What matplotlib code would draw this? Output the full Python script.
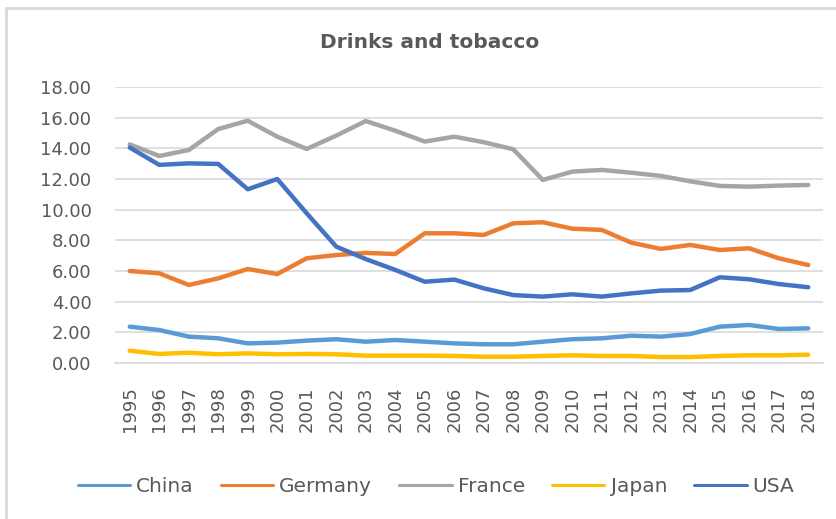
import numpy as np
import matplotlib.pyplot as plt
from matplotlib.patches import Rectangle

# Drinks and tobacco series, 1995-2018
years = [str(y) for y in range(1995, 2019)]
china = [2.37, 2.15, 1.72, 1.61, 1.28, 1.33, 1.46, 1.55, 1.39, 1.50, 1.39, 1.28,
         1.22, 1.22, 1.39, 1.55, 1.61, 1.78, 1.72, 1.89, 2.37, 2.48, 2.22, 2.26]
germany = [6.00, 5.85, 5.09, 5.52, 6.13, 5.80, 6.83, 7.04, 7.18, 7.11, 8.46, 8.46,
           8.35, 9.11, 9.18, 8.76, 8.68, 7.85, 7.44, 7.70, 7.37, 7.48, 6.83, 6.39]
france = [14.26, 13.50, 13.89, 15.26, 15.80, 14.76, 13.96, 14.83, 15.78, 15.15, 14.44, 14.76,
          14.40, 13.94, 11.94, 12.48, 12.59, 12.41, 12.20, 11.85, 11.55, 11.50, 11.57, 11.61]
japan = [0.80, 0.59, 0.67, 0.57, 0.63, 0.57, 0.59, 0.57, 0.48, 0.48, 0.48, 0.46,
         0.41, 0.41, 0.46, 0.50, 0.46, 0.46, 0.39, 0.39, 0.46, 0.50, 0.50, 0.54]
usa = [14.05, 12.92, 13.02, 12.98, 11.33, 12.00, 9.76, 7.59, 6.78, 6.07, 5.30, 5.44,
       4.87, 4.43, 4.33, 4.48, 4.33, 4.54, 4.72, 4.76, 5.59, 5.46, 5.15, 4.94]

series = [("China", china, "#5B9BD5"),
          ("Germany", germany, "#ED7D31"),
          ("France", france, "#A5A5A5"),
          ("Japan", japan, "#FFC000"),
          ("USA", usa, "#4472C4")]

text_color = "#595959"
grid_color = "#D9D9D9"

fig = plt.figure(figsize=(8.37, 5.19), dpi=100)
ax = fig.add_axes([115 / 837, 1 - 363 / 519, 708 / 837, 276 / 519])

x = np.arange(len(years))
for name, vals, color in series:
    ax.plot(x, vals, color=color, lw=3.2, solid_capstyle="round",
            solid_joinstyle="round", label=name)

ax.set_xlim(-0.5, len(years) - 0.5)
ax.set_ylim(0, 18)
ax.set_yticks(np.arange(0, 18.01, 2))
ax.set_yticklabels([f"{v:.2f}" for v in np.arange(0, 18.01, 2)])
ax.set_xticks(x)
ax.set_xticklabels(years, rotation=90)
ax.tick_params(axis="y", length=0, pad=17, labelsize=13, labelcolor=text_color)
ax.tick_params(axis="x", length=0, pad=17, labelsize=13, labelcolor=text_color)

ax.grid(axis="y", color=grid_color, lw=1.2)
ax.set_axisbelow(True)
for side in ["top", "right", "left"]:
    ax.spines[side].set_visible(False)
ax.spines["bottom"].set_color(grid_color)
ax.spines["bottom"].set_linewidth(1.2)

fig.text(430 / 837, 1 - 43 / 519, "Drinks and tobacco", ha="center", va="center",
         fontsize=14.5, fontweight="bold", color=text_color)

leg = fig.legend(loc="center", bbox_to_anchor=(436 / 837, 1 - 487 / 519), ncol=5,
                 frameon=False, fontsize=14.5, handlelength=2.6, handletextpad=0.3,
                 columnspacing=1.35)
for t in leg.get_texts():
    t.set_color(text_color)
for h in leg.legend_handles:
    h.set_linewidth(2.2)

# chart area border (left and top edges)
fig.patches.append(Rectangle((6 / 837, -0.1), 1.2, 1 - 8 / 519 + 0.1,
                             transform=fig.transFigure, fill=False,
                             edgecolor=grid_color, lw=2))

fig.savefig("out.png", dpi=100)
